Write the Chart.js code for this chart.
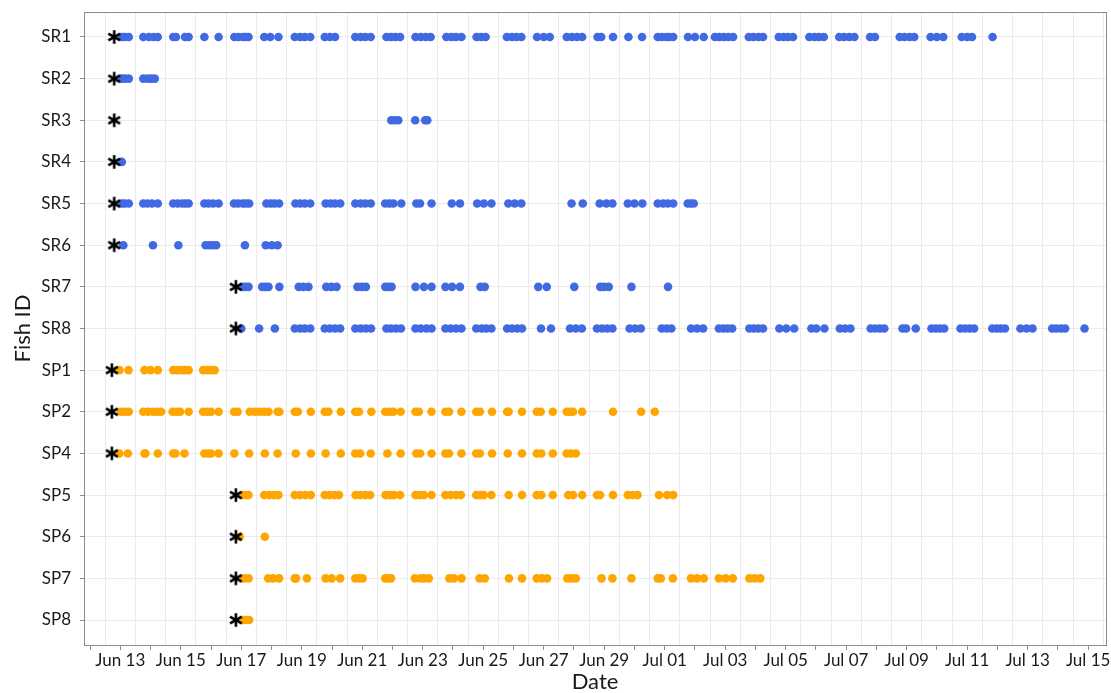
<!DOCTYPE html>
<html>
<head>
<meta charset="utf-8">
<script src="https://cdn.jsdelivr.net/npm/chart.js@4.4.1/dist/chart.umd.min.js"></script>
<style>
  html, body { margin: 0; padding: 0; background: #fff; }
</style>
</head>
<body>
<canvas id="fishChart" width="1111" height="693"></canvas>
<script>
// x values are days of June (Jul 01 = 31), fractions are time of day
const fishIds = ["SR1", "SR2", "SR3", "SR4", "SR5", "SR6", "SR7", "SR8",
  "SP1", "SP2", "SP4", "SP5", "SP6", "SP7", "SP8"];

// release time of each fish (the asterisks), same order as fishIds
const releaseDays = [12.8, 12.8, 12.8, 12.8, 12.8, 12.8, 16.82, 16.82,
  12.72, 12.72, 12.72, 16.82, 16.82, 16.82, 16.82];

// detections per fish
const sr1 = [13.05, 13.15, 13.28, 13.76, 13.95, 14.1, 14.24, 14.75, 14.84, 15.14, 15.26, 15.78, 16.25,
  16.77, 16.9, 17.05, 17.15, 17.24, 17.76, 17.96, 18.23, 18.77, 18.95, 19.1, 19.28, 19.76, 19.93, 20.1,
  20.77, 20.95, 21.1, 21.28, 21.8, 21.95, 22.1, 22.25, 22.76, 22.93, 23.1, 23.26, 23.78, 23.95, 24.1, 24.28,
  24.78, 24.93, 25.08, 25.78, 25.95, 26.1, 26.26, 26.78, 27.0, 27.2, 27.76, 27.93, 28.1, 28.27, 28.78, 28.9,
  29.29, 29.8, 30.25, 30.77, 30.9, 31.05, 31.15, 31.28, 31.77, 32.0, 32.29, 32.66, 32.8, 32.95, 33.1, 33.26,
  33.78, 33.93, 34.1, 34.25, 34.77, 34.93, 35.08, 35.24, 35.78, 35.95, 36.1, 36.26, 36.77, 36.93, 37.1, 37.27,
  37.79, 37.95, 38.77, 38.93, 39.1, 39.25, 39.79, 40.0, 40.21, 40.82, 41.0, 41.16, 41.84];
const sr2 = [13.05, 13.15, 13.28, 13.76, 13.9, 14.02, 14.14];
const sr3 = [21.96, 22.07, 22.19, 22.75, 23.08, 23.15];
const sr4 = [13.05];
const sr5 = [13.05, 13.15, 13.28, 13.76, 13.9, 14.05, 14.24, 14.75, 14.9, 15.05, 15.15, 15.26, 15.78, 15.92,
  16.07, 16.25, 16.76, 16.9, 17.05, 17.15, 17.26, 17.83, 17.97, 18.1, 18.25, 18.79, 18.95, 19.1, 19.28,
  19.79, 19.95, 20.1, 20.27, 20.77, 20.95, 21.1, 21.28, 21.76, 21.9, 22.03, 22.29, 22.79, 22.91, 23.29,
  23.96, 24.23, 24.8, 25.02, 25.27, 25.83, 26.04, 26.26, 27.92, 28.29, 28.85, 29.07, 29.27, 29.78, 30.0,
  30.26, 30.77, 30.95, 31.1, 31.28, 31.76, 31.86, 31.96];
const sr6 = [13.1, 14.08, 14.92, 15.82, 15.94, 16.06, 16.17, 17.12, 17.81, 18.01, 18.2];
const sr7 = [17.06, 17.15, 17.24, 17.69, 17.8, 17.9, 18.26, 18.9, 19.05, 19.22, 19.81, 19.98, 20.15, 20.84,
  20.98, 21.12, 21.76, 21.87, 21.97, 22.76, 23.04, 23.29, 23.75, 23.97, 24.23, 24.91, 25.05, 26.82, 27.1,
  28.01, 28.87, 29.0, 29.15, 29.9, 31.11];
const sr8 = [17.0, 17.59, 18.11, 18.77, 18.95, 19.1, 19.28, 19.76, 19.93, 20.1, 20.27, 20.77, 20.95, 21.12,
  21.29, 21.8, 21.95, 22.12, 22.28, 22.76, 22.93, 23.12, 23.29, 23.75, 23.92, 24.1, 24.28, 24.77, 24.95, 25.1,
  25.27, 25.79, 25.95, 26.12, 26.28, 26.91, 27.24, 27.87, 28.06, 28.26, 28.76, 28.93, 29.1, 29.27, 29.84,
  30.02, 30.21, 30.9, 31.06, 31.22, 31.87, 32.07, 32.27, 32.79, 32.94, 33.08, 33.23, 33.8, 33.95, 34.1, 34.25,
  34.79, 35.02, 35.28, 35.85, 36.01, 36.28, 36.79, 36.96, 37.14, 37.81, 37.96, 38.11, 38.26, 38.86, 38.98,
  39.3, 39.82, 39.96, 40.1, 40.24, 40.78, 40.93, 41.08, 41.23, 41.83, 41.97, 42.11, 42.25, 42.76, 42.96,
  43.16, 43.81, 43.95, 44.1, 44.24, 44.88];
const sp1 = [12.97, 13.27, 13.8, 14.0, 14.24, 14.75, 14.9, 15.05, 15.15, 15.26, 15.74, 15.86, 16.0, 16.12];
const sp2 = [13.02, 13.15, 13.28, 13.76, 13.92, 14.08, 14.22, 14.35, 14.73, 14.86, 14.98, 15.26, 15.74,
  15.87, 16.0, 16.25, 16.76, 16.88, 17.28, 17.45, 17.6, 17.75, 17.9, 18.2, 18.26, 18.77, 18.87, 19.3, 19.76,
  19.88, 20.29, 20.77, 20.89, 21.3, 21.76, 21.9, 22.03, 22.27, 22.76, 22.87, 23.29, 23.75, 23.87, 24.28,
  24.77, 24.89, 25.29, 25.79, 25.84, 26.28, 26.77, 26.9, 27.3, 27.76, 27.87, 27.97, 28.27, 29.29, 30.22, 30.67];
const sp4 = [12.97, 13.25, 13.8, 13.83, 14.24, 14.75, 14.82, 15.12, 15.78, 15.9, 16.0, 16.25, 16.77, 17.26,
  17.78, 18.2, 18.8, 19.3, 19.79, 20.29, 20.77, 20.93, 21.28, 21.83, 22.27, 22.79, 22.91, 23.29, 23.75, 23.87,
  24.28, 24.77, 24.89, 25.29, 25.81, 26.28, 26.77, 26.92, 27.3, 27.76, 27.9, 28.06];
const sp5 = [17.06, 17.15, 17.24, 17.76, 17.92, 18.08, 18.23, 18.77, 18.95, 19.12, 19.3, 19.76, 19.92, 20.08,
  20.23, 20.78, 20.94, 21.1, 21.26, 21.77, 21.92, 22.05, 22.25, 22.76, 22.9, 23.04, 23.29, 23.75, 23.92, 24.1,
  24.26, 24.77, 24.9, 25.02, 25.27, 25.84, 26.28, 26.77, 26.92, 27.3, 27.81, 27.97, 28.27, 28.76, 28.86,
  29.29, 29.78, 29.94, 30.1, 30.81, 31.08, 31.28];
const sp6 = [16.95, 17.78];
const sp7 = [17.09, 17.24, 17.89, 18.05, 18.25, 18.77, 18.81, 19.17, 19.79, 19.99, 20.27, 20.77, 20.9, 21.01,
  21.76, 21.86, 21.95, 22.74, 22.93, 23.05, 23.2, 23.88, 24.03, 24.28, 24.88, 25.05, 25.85, 26.28, 26.77,
  26.94, 27.11, 27.78, 27.92, 28.06, 28.91, 29.27, 29.9, 30.77, 30.87, 31.27, 31.87, 32.07, 32.29, 32.79,
  33.01, 33.25, 33.8, 33.97, 34.16];
const sp8 = [17.02, 17.14, 17.26];

const detectionsByFish = [sr1, sr2, sr3, sr4, sr5, sr6, sr7, sr8, sp1, sp2, sp4, sp5, sp6, sp7, sp8];

const blue = "#4169e1";
const orange = "#ffa500";
const axisGray = "#8c8c8c";
const gridGray = "#ebebeb";

//turns day-of-June into "Jun 13" / "Jul 01"
const dayLabel = (v) => {
  if (v <= 30) return "Jun " + v;
  return "Jul " + String(v - 30).padStart(2, "0");
};

//builds the points of all fish whose id starts with the prefix
const pointsFor = (prefix) => {
  const pts = [];
  fishIds.forEach((id, i) => {
    if (!id.startsWith(prefix)) return;
    detectionsByFish[i].forEach((d) => pts.push({ x: d, y: i }));
  });
  return pts;
};

//small canvas with a six armed asterisk, used as point style
const makeAsterisk = () => {
  const c = document.createElement("canvas");
  c.width = 18;
  c.height = 18;
  const g = c.getContext("2d");
  g.strokeStyle = "#000";
  g.lineWidth = 2.6;
  g.translate(9, 9);
  [90, 30, 150].forEach((deg) => {
    const a = (deg * Math.PI) / 180;
    g.beginPath();
    g.moveTo(-6.8 * Math.cos(a), -6.8 * Math.sin(a));
    g.lineTo(6.8 * Math.cos(a), 6.8 * Math.sin(a));
    g.stroke();
  });
  return c;
};

const xMin = 11.8;
const xMax = 45.59;
const font = "Lato";

new Chart(document.getElementById("fishChart"), {
  type: "scatter",
  data: {
    datasets: [
      {
        label: "Release",
        data: releaseDays.map((d, i) => ({ x: d, y: i })),
        pointStyle: makeAsterisk(),
        order: 0,
      },
      {
        label: "SR",
        data: pointsFor("SR"),
        pointRadius: 4.3,
        backgroundColor: blue,
        borderColor: blue,
        borderWidth: 0,
        order: 1,
      },
      {
        label: "SP",
        data: pointsFor("SP"),
        pointRadius: 4.3,
        backgroundColor: orange,
        borderColor: orange,
        borderWidth: 0,
        order: 1,
      },
    ],
  },
  options: {
    responsive: false,
    animation: false,
    events: [],
    layout: { padding: 0 },
    plugins: { legend: { display: false }, tooltip: { enabled: false } },
    scales: {
      x: {
        type: "linear",
        position: "bottom",
        min: xMin,
        max: xMax,
        afterFit: (s) => {
          s.height = 48;
          s.paddingLeft = 0;
          s.paddingRight = 0;
        },
        ticks: {
          stepSize: 1,
          includeBounds: false,
          autoSkip: false,
          maxRotation: 0,
          padding: 0,
          color: "#1a1a1a",
          font: { family: font, size: 17 },
          callback: (v) => (v % 2 === 1 ? dayLabel(v) : ""),
        },
        grid: { drawOnChartArea: false, tickLength: 5, tickColor: axisGray },
        border: { color: axisGray },
        title: {
          display: true,
          text: "Date",
          color: "#1a1a1a",
          font: { family: font, size: 22, lineHeight: 1 },
          padding: { top: 0, bottom: 0 },
        },
      },
      //second scale only for the vertical grid lines, which sit at midday
      xg: {
        type: "linear",
        position: "top",
        min: xMin + 0.5,
        max: xMax + 0.5,
        afterFit: (s) => {
          s.height = 12;
          s.paddingLeft = 0;
          s.paddingRight = 0;
        },
        ticks: { stepSize: 1, includeBounds: false, display: false },
        grid: { color: gridGray, drawTicks: false },
        border: { display: true, color: axisGray },
      },
      y: {
        type: "linear",
        reverse: true,
        min: -0.6,
        max: 14.6,
        afterFit: (s) => {
          s.width = 84;
          s.paddingTop = 0;
          s.paddingBottom = 0;
        },
        ticks: {
          stepSize: 1,
          includeBounds: false,
          autoSkip: false,
          padding: 9,
          color: "#1a1a1a",
          font: { family: font, size: 17 },
          callback: (v) => fishIds[v] || "",
        },
        grid: { color: gridGray, tickLength: 4, tickColor: axisGray },
        border: { color: axisGray },
        title: {
          display: true,
          text: "Fish ID",
          color: "#1a1a1a",
          font: { family: font, size: 22 },
          padding: { top: 10, bottom: 0 },
        },
      },
      yr: {
        type: "linear",
        position: "right",
        afterFit: (s) => {
          s.width = 3;
          s.paddingTop = 0;
          s.paddingBottom = 0;
        },
        ticks: { display: false },
        grid: { drawOnChartArea: false, drawTicks: false },
        border: { display: true, color: axisGray },
      },
    },
  },
});
</script>
</body>
</html>
